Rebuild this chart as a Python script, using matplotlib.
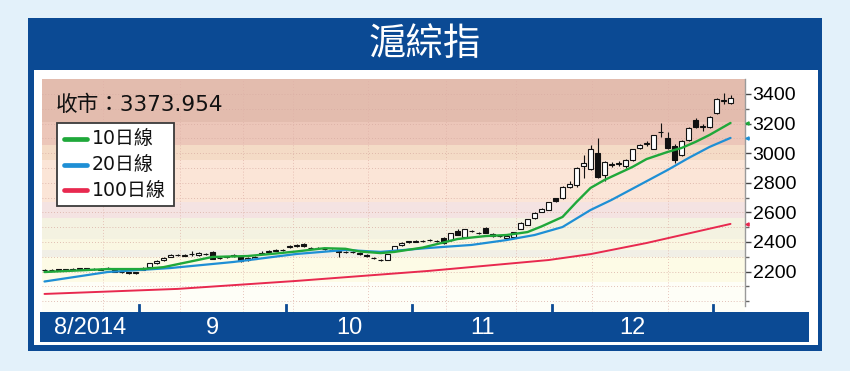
import matplotlib
matplotlib.use('Agg')
import matplotlib.pyplot as plt
import matplotlib.transforms as mtransforms
from matplotlib.patches import Rectangle
from matplotlib.lines import Line2D
import numpy as np

# ---------------- data ----------------
title = '滬綜指'
close_label = '收市：3373.954'
month_labels = ['8/2014', '9', '10', '11', '12']
month_label_pos = [6.5, 24, 43.5, 62.5, 84]
month_ticks = [13.5, 34.5, 52.5, 72.5, 95.5]
legend_labels = ['10日線', '20日線', '100日線']
y_major = [2200, 2400, 2600, 2800, 3000, 3200, 3400]

opens = [2208, 2212, 2215, 2210, 2214, 2220, 2222, 2218, 2214, 2222, 2210, 2198, 2194, 2188,
         2212, 2228, 2258, 2278, 2300, 2315, 2308, 2316, 2312, 2322, 2333, 2290, 2296, 2305,
         2308, 2275, 2288, 2322, 2335, 2342, 2345,
         2365, 2372, 2385, 2362, 2358, 2352, 2348, 2336, 2334, 2333, 2328, 2315, 2294, 2280,
         2280, 2345, 2378, 2400,
         2402, 2406, 2412, 2408, 2425, 2415, 2472, 2436, 2476, 2462, 2494, 2453, 2441, 2428,
         2436, 2490, 2516, 2563, 2605, 2618,
         2695, 2697, 2772, 2785, 2910, 2892, 3000, 2855, 2925, 2928, 2910, 2955, 3035, 3062,
         3030, 3140, 3105, 3050, 2985, 3090, 3225, 3175, 3175,
         3272, 3355, 3340]
closes = [2212, 2214, 2210, 2215, 2220, 2222, 2218, 2216, 2220, 2224, 2200, 2196, 2190, 2196,
          2226, 2255, 2272, 2292, 2312, 2310, 2312, 2318, 2325, 2320, 2288, 2292, 2302, 2312,
          2272, 2292, 2300, 2328, 2340, 2345, 2348,
          2373, 2380, 2370, 2362, 2360, 2354, 2346, 2334, 2333, 2333, 2318, 2305, 2292, 2278,
          2318, 2372, 2395, 2405,
          2408, 2410, 2413, 2406, 2395, 2458, 2450, 2486, 2472, 2464, 2462, 2441, 2439, 2440,
          2466, 2528, 2554, 2595, 2620, 2668,
          2680, 2770, 2790, 2898, 2935, 3030, 2842, 2940, 2920, 2936, 2955, 3025, 3058, 3068,
          3120, 3145, 3035, 2955, 3085, 3170, 3178, 3185, 3245,
          3365, 3360, 3374]
highs = [2216, 2220, 2218, 2219, 2224, 2227, 2226, 2222, 2226, 2228, 2214, 2203, 2198, 2200,
         2230, 2258, 2276, 2296, 2316, 2320, 2318, 2338, 2330, 2328, 2336, 2298, 2306, 2318,
         2312, 2296, 2304, 2340, 2345, 2350, 2352,
         2378, 2386, 2390, 2368, 2365, 2360, 2352, 2342, 2340, 2338, 2332, 2318, 2298, 2285,
         2322, 2376, 2400, 2410,
         2413, 2415, 2418, 2413, 2435, 2462, 2485, 2490, 2482, 2470, 2498, 2458, 2446, 2444,
         2470, 2532, 2558, 2600, 2632, 2672,
         2700, 2775, 2810, 2905, 2990, 3055, 3100, 2950, 2940, 2945, 2962, 3030, 3065, 3080,
         3125, 3203, 3140, 3060, 3090, 3175, 3235, 3200, 3250,
         3375, 3405, 3395]
lows = [2204, 2208, 2205, 2206, 2210, 2216, 2214, 2212, 2210, 2218, 2196, 2192, 2186, 2185,
        2208, 2225, 2254, 2274, 2296, 2305, 2304, 2305, 2308, 2315, 2284, 2282, 2290, 2300,
        2268, 2270, 2284, 2316, 2330, 2338, 2341,
        2360, 2368, 2366, 2356, 2352, 2346, 2340, 2300, 2326, 2328, 2314, 2300, 2286, 2272,
        2276, 2340, 2374, 2395,
        2398, 2402, 2406, 2400, 2385, 2410, 2445, 2430, 2466, 2455, 2458, 2436, 2432, 2424,
        2432, 2486, 2512, 2558, 2600, 2614,
        2670, 2690, 2765, 2770, 2830, 2885, 2830, 2815, 2905, 2915, 2900, 2950, 3025, 3050,
        3025, 3110, 3025, 2935, 2980, 3085, 3170, 3150, 3170,
        3265, 3330, 3330]

ma10_day = [0, 9, 14, 17, 24, 29, 33, 36, 40, 43, 45, 48, 50, 54, 59, 63, 66, 69, 71, 74,
            76, 78, 80, 84, 86, 89, 91, 93, 95, 98]
ma10_val = [2197, 2217, 2217, 2230, 2299, 2305, 2322, 2336, 2358, 2354, 2336, 2325, 2333,
            2362, 2420, 2440, 2447, 2467, 2505, 2569, 2670, 2765, 2819, 2907, 2960, 3008,
            3035, 3076, 3123, 3204]
ma20_day = [0, 9, 18, 27, 36, 43, 48, 55, 61, 66, 70, 74, 78, 81, 89, 92, 95, 98]
ma20_val = [2133, 2197, 2224, 2265, 2319, 2346, 2333, 2360, 2380, 2413, 2447, 2501, 2616,
            2684, 2886, 2967, 3042, 3103]
ma100_day = [0, 19, 36, 55, 72, 78, 86, 98]
ma100_val = [2049, 2083, 2137, 2205, 2278, 2318, 2393, 2522]

# ---------------- style ----------------
W, H = 850, 371
DARK = '#0b4a94'
OUTER = '#e3f1fa'
C10, C20, C100 = '#1fa83a', '#1e8fd5', '#e8294f'


def fx(x):
    return x / W


def fy(y):
    return 1 - y / H


fig = plt.figure(figsize=(W / 100, H / 100), dpi=100)
fig.patch.set_facecolor(OUTER)


def frect(x0, y0, x1, y1, **kw):
    r = Rectangle((fx(x0), fy(y1)), (x1 - x0) / W, (y1 - y0) / H,
                  transform=fig.transFigure, **kw)
    fig.patches.append(r)
    return r


frect(28, 18, 822, 351, facecolor=DARK, edgecolor='none', zorder=-3)
frect(33.5, 70, 818, 345, facecolor='white', edgecolor='none', zorder=-2)
frect(40, 312, 809, 342, facecolor=DARK, edgecolor='none', zorder=-1)

fig.text(fx(425), fy(45), title, color='white', fontsize=27, ha='center', va='center',
         family=['Noto Sans CJK TC'])

ax = fig.add_axes([fx(41.7), fy(312), (745 - 41.7) / W, (312 - 79) / H])
ax.set_zorder(1)
ax.set_xlim(-0.4, 100.07)
ax.set_ylim(1927, 3501)
ax.patch.set_alpha(0)

bands = [(3211, 3501, '#e3bcae'), (3055, 3211, '#ecc6b9'), (2954, 3055, '#f4dbc6'),
         (2670, 2954, '#fbe5d7'), (2562, 2670, '#f4e3e2'), (2420, 2562, '#f4f2e1'),
         (2346, 2420, '#faf7e2'), (2299, 2346, '#f1efe6'), (2130, 2299, '#fdfbe6'),
         (1927, 2130, '#fefef7')]
for lo, hi, c in bands:
    ax.axhspan(lo, hi, color=c, lw=0, zorder=0)

for v in range(2000, 3500, 100):
    ax.axhline(v, color='#d8aca2', lw=0.6, ls=(0, (1, 2.5)), zorder=0.5)
for gx in [8.4, 19.4, 28.4, 35.5, 46.2, 57.4, 67.4, 78.2, 89.1]:
    ax.axvline(gx, color='#e0b2a8', lw=0.6, ls=(0, (1, 2.5)), zorder=0.5)

idx = np.arange(len(closes))
o = np.array(opens, float)
c = np.array(closes, float)
ax.vlines(idx, lows, highs, color='#111111', lw=0.8, zorder=2)
up = c >= o
bottoms = np.minimum(o, c)
heights = np.abs(c - o)
ax.bar(idx[up], heights[up], bottom=bottoms[up], width=0.62, facecolor='white',
       edgecolor='#111111', lw=0.8, zorder=3)
ax.bar(idx[~up], heights[~up], bottom=bottoms[~up], width=0.62, facecolor='#111111',
       edgecolor='#111111', lw=0.8, zorder=3)

ax.plot(ma100_day, ma100_val, color=C100, lw=1.4, zorder=4, solid_capstyle='round')
ax.plot(ma20_day, ma20_val, color=C20, lw=1.6, zorder=4, solid_capstyle='round')
ax.plot(ma10_day, ma10_val, color=C10, lw=1.7, zorder=5, solid_capstyle='round')

# right axis
for s in ['top', 'left', 'bottom']:
    ax.spines[s].set_visible(False)
ax.spines['right'].set_color('#9a9a9a')
ax.spines['right'].set_linewidth(1.0)
ax.spines['right'].set_bounds(1968, 3501)
ax.yaxis.tick_right()
ax.set_yticks(y_major)
ax.set_yticklabels([str(v) for v in y_major])
ax.set_yticks(list(range(2000, 3500, 100)), minor=True)
ax.tick_params(axis='y', which='major', direction='out', length=4, width=1,
               color='#444444', pad=1.5, labelsize=14, labelcolor='black')
ax.tick_params(axis='y', which='minor', direction='out', length=3, width=1, color='#666666')
for t in ax.get_yticklabels():
    t.set_family('Liberation Sans')
ax.set_xticks([])

# current MA markers at axis
tr_r = mtransforms.blended_transform_factory(ax.transAxes, ax.transData)
for vals, col in [(ma10_val, C10), (ma20_val, C20), (ma100_val, C100)]:
    ax.plot([1.003], [vals[-1]], marker='<', ms=2.3, color=col, transform=tr_r,
            clip_on=False, zorder=6, ls='none')

# month ticks and labels
tr_b = mtransforms.blended_transform_factory(ax.transData, ax.transAxes)
for t in month_ticks:
    ax.plot([t, t], [0, 0.031], color=DARK, lw=2, transform=tr_b, clip_on=False, zorder=6)
tr_m = mtransforms.blended_transform_factory(ax.transData, fig.transFigure)
for p, lab in zip(month_label_pos, month_labels):
    ax.text(p, fy(327.5), lab, transform=tr_m, color='white', fontsize=17,
            family='Liberation Sans', ha='center', va='center', clip_on=False)

# close text
fig.text(fx(56), fy(105), close_label, fontsize=15.6, color='#111111', ha='left',
         va='center', family=['DejaVu Sans', 'Noto Sans CJK TC'], zorder=10)

# legend box
frect(57, 123, 174, 206, facecolor='white', edgecolor='#3a3a3a', lw=1.3, zorder=10)
for k, (lab, col) in enumerate(zip(legend_labels, [C10, C20, C100])):
    yy = 139 + 25.5 * k
    fig.lines.append(Line2D([fx(64), fx(87)], [fy(yy), fy(yy)], transform=fig.transFigure,
                            color=col, lw=3.4, solid_capstyle='round', zorder=11))
    fig.text(fx(92), fy(yy), lab, fontsize=13.6, color='#111111', ha='left', va='center',
             family=['DejaVu Sans', 'Noto Sans CJK TC'], zorder=11)

fig.savefig('out.png', dpi=100, facecolor=OUTER)
